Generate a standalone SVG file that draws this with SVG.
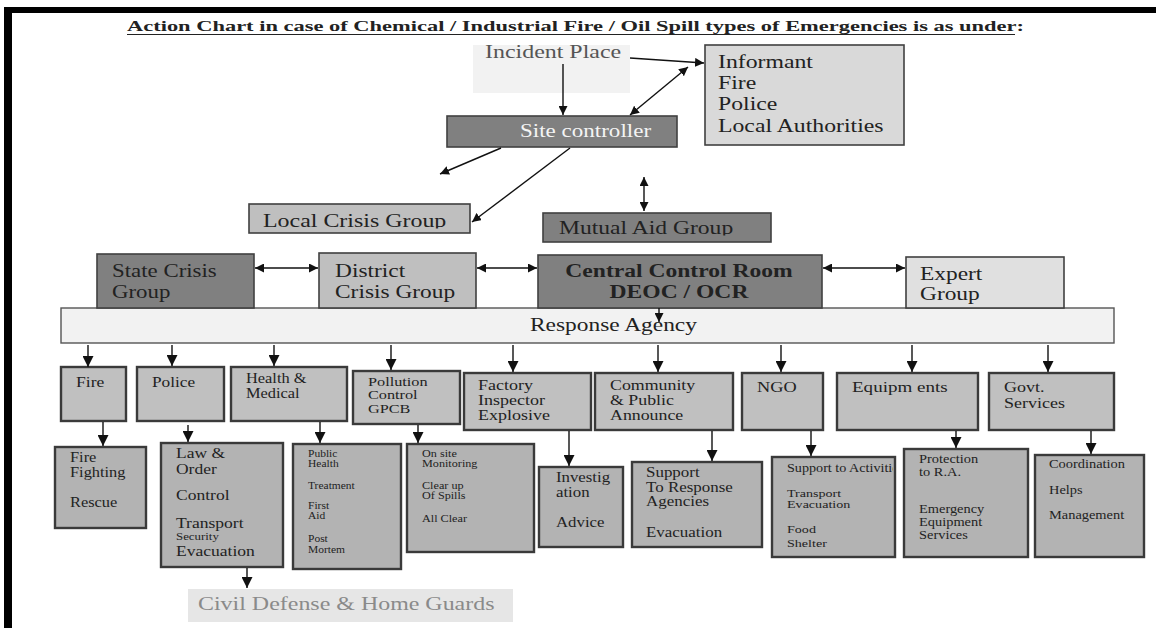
<svg xmlns="http://www.w3.org/2000/svg" width="1156" height="628" viewBox="0 0 1156 628">
<style>
.t{font-family:"Liberation Serif","Times New Roman",serif;fill:#222}
.b{font-weight:bold}
.f18{font-size:18px}.f15{font-size:15px}.f14{font-size:14px}.f13{font-size:13px}.f12{font-size:12px}.f11{font-size:11px}.f10{font-size:10px}
.bt{stroke:#404040;stroke-width:1.6}
.br{stroke:#3a3a3a;stroke-width:2.4}
.dk{fill:#808080}.md{fill:#bfbfbf}.lt{fill:#d9d9d9}.xl{fill:#f2f2f2}
.r1{fill:#c0c0c0}.r2{fill:#b3b3b3}
.c{stroke:#111;stroke-width:1.4;fill:none}
</style>
<defs>
<marker id="ah" viewBox="0 0 10 10" refX="10" refY="5" markerWidth="9" markerHeight="9" markerUnits="userSpaceOnUse" orient="auto-start-reverse"><path d="M0,0 L10,5 L0,10 z" fill="#111"/></marker>
<marker id="ahb" viewBox="0 0 10 10" refX="10" refY="5" markerWidth="11" markerHeight="11" markerUnits="userSpaceOnUse" orient="auto-start-reverse"><path d="M0,0 L10,5 L0,10 z" fill="#111"/></marker>
<clipPath id="clLcg"><rect x="249" y="204" width="221" height="24.5"/></clipPath>
<clipPath id="clMag"><rect x="543" y="213" width="228" height="22.5"/></clipPath>
<clipPath id="clSup"><rect x="772" y="457" width="121" height="100"/></clipPath>
</defs>
<rect width="1156" height="628" fill="#fff"/>
<g id="frame">
<rect x="4" y="7" width="8" height="621" fill="#000"/>
<rect x="4" y="7" width="1152" height="6" fill="#000"/>
</g>
<g id="title">
<text class="t b" x="127" y="31" font-size="15" textLength="897" lengthAdjust="spacingAndGlyphs">Action Chart in case of Chemical / Industrial Fire / Oil Spill types of Emergencies is as under:</text>
<line x1="127" y1="34.5" x2="1015" y2="34.5" stroke="#222" stroke-width="1.2"/>
</g>

<g id="incident-place">
<rect x="473" y="45" width="157" height="48" class="xl"/>
<g transform="translate(485 0) scale(1.33 1)"><text class="t f18" y="58" style="fill:#555">Incident Place</text></g>
</g>
<g id="informant">
<rect x="705" y="45" width="199" height="100" class="lt bt"/>
<g transform="translate(718 0) scale(1.32 1)">
<text class="t f18" y="68">Informant</text>
<text class="t f18" y="89">Fire</text>
<text class="t f18" y="110">Police</text>
<text class="t f18" y="132">Local Authorities</text>
</g>
</g>
<g id="site-controller">
<rect x="447" y="116" width="230" height="31" class="dk bt"/>
<g transform="translate(520 0) scale(1.28 1)"><text class="t f18" y="137" style="fill:#f4f4f4">Site controller</text></g>
</g>
<g id="local-crisis-group">
<rect x="249" y="204" width="221" height="29" class="md bt"/>
<g clip-path="url(#clLcg)"><g transform="translate(263 0) scale(1.33 1)"><text class="t f18" y="227">Local Crisis Group</text></g></g>
</g>
<g id="mutual-aid-group">
<rect x="543" y="213" width="228" height="29" class="dk bt"/>
<g clip-path="url(#clMag)"><g transform="translate(559 0) scale(1.31 1)"><text class="t f18" y="234">Mutual Aid Group</text></g></g>
</g>

<g id="response-agency">
<rect x="61" y="308" width="1053" height="35" class="xl" stroke="#555" stroke-width="1.4"/>
<g transform="translate(530 0) scale(1.3 1)"><text class="t f18" y="331">Response Agency</text></g>
</g>
<g id="state-crisis-group">
<rect x="97" y="254" width="157" height="54" class="dk bt"/>
<g transform="translate(112 0) scale(1.27 1)"><text class="t f18" y="277">State Crisis</text><text class="t f18" y="298">Group</text></g>
</g>
<g id="district-crisis-group">
<rect x="319" y="253" width="157" height="55" class="md bt"/>
<g transform="translate(335 0) scale(1.3 1)"><text class="t f18" y="277">District</text><text class="t f18" y="298">Crisis Group</text></g>
</g>
<g id="central-control-room">
<rect x="538" y="255" width="284" height="53" class="dk bt"/>
<g transform="translate(679 0) scale(1.31 1)"><text class="t f18 b" y="277" text-anchor="middle">Central Control Room</text><text class="t f18 b" y="298" text-anchor="middle">DEOC / OCR</text></g>
</g>
<g id="expert-group">
<rect x="906" y="257" width="158" height="51" class="bt" fill="#e0e0e0"/>
<g transform="translate(920 0) scale(1.3 1)"><text class="t f18" y="280">Expert</text><text class="t f18" y="300">Group</text></g>
</g>

<g id="fire">
<rect x="61" y="367" width="65" height="54" class="r1 br"/>
<g transform="translate(76 0) scale(1.17 1)"><text class="t f15" y="387">Fire</text></g>
</g>
<g id="police">
<rect x="137" y="367" width="87" height="54" class="r1 br"/>
<g transform="translate(152 0) scale(1.15 1)"><text class="t f15" y="387">Police</text></g>
</g>
<g id="health-medical">
<rect x="231" y="367" width="116" height="54" class="r1 br"/>
<g transform="translate(246 0) scale(1.17 1)"><text class="t f14" y="383">Health &amp;</text><text class="t f14" y="398">Medical</text></g>
</g>
<g id="pollution-control">
<rect x="353" y="371" width="107" height="53" class="r1 br"/>
<g transform="translate(368 0) scale(1.25 1)"><text class="t f13" y="386">Pollution</text><text class="t f13" y="399.5">Control</text><text class="t f13" y="413">GPCB</text></g>
</g>
<g id="factory-inspector">
<rect x="464" y="373" width="127" height="57" class="r1 br"/>
<g transform="translate(478 0) scale(1.2 1)"><text class="t f15" y="390">Factory</text><text class="t f15" y="405">Inspector</text><text class="t f15" y="420">Explosive</text></g>
</g>
<g id="community">
<rect x="595" y="373" width="138" height="57" class="r1 br"/>
<g transform="translate(610 0) scale(1.19 1)"><text class="t f15" y="390">Community</text><text class="t f15" y="405">&amp; Public</text><text class="t f15" y="420">Announce</text></g>
</g>
<g id="ngo">
<rect x="742" y="373" width="81" height="57" class="r1 br"/>
<g transform="translate(757 0) scale(1.22 1)"><text class="t f15" y="392">NGO</text></g>
</g>
<g id="equipments">
<rect x="837" y="373" width="141" height="57" class="r1 br"/>
<g transform="translate(852 0) scale(1.27 1)"><text class="t f15" y="392">Equipm ents</text></g>
</g>
<g id="govt-services">
<rect x="989" y="373" width="125" height="57" class="r1 br"/>
<g transform="translate(1004 0) scale(1.2 1)"><text class="t f15" y="392">Govt.</text><text class="t f15" y="408">Services</text></g>
</g>

<g id="fire-fighting">
<rect x="55" y="447" width="91" height="81" class="r2 br"/>
<g transform="translate(70 0) scale(1.17 1)"><text class="t f14" y="462">Fire</text><text class="t f14" y="477">Fighting</text><text class="t f14" y="507">Rescue</text></g>
</g>
<g id="law-order">
<rect x="161" y="443" width="122" height="124" class="r2 br"/>
<g transform="translate(176 0) scale(1.25 1)"><text class="t f14" y="458">Law &amp;</text><text class="t f14" y="474">Order</text></g>
<g transform="translate(176 0) scale(1.17 1)"><text class="t f15" y="500">Control</text><text class="t f15" y="528">Transport</text><text class="t f11" y="540">Security</text><text class="t f15" y="556">Evacuation</text></g>
</g>
<g id="public-health">
<rect x="293" y="444" width="108" height="125" class="r2 br"/>
<g transform="translate(308 0) scale(1.15 1)"><text class="t f10" y="457">Public</text><text class="t f10" y="467">Health</text><text class="t f10" y="489">Treatment</text><text class="t f10" y="509">First</text><text class="t f10" y="519">Aid</text><text class="t f10" y="542">Post</text><text class="t f10" y="553">Mortem</text></g>
</g>
<g id="onsite-monitoring">
<rect x="407" y="444" width="127" height="108" class="r2 br"/>
<g transform="translate(422 0) scale(1.16 1)"><text class="t" font-size="10.5" y="457">On site</text><text class="t" font-size="10.5" y="467">Monitoring</text><text class="t" font-size="10.5" y="489">Clear up</text><text class="t" font-size="10.5" y="499">Of Spills</text><text class="t" font-size="10.5" y="522">All Clear</text></g>
</g>
<g id="investigation">
<rect x="539" y="467" width="84" height="80" class="r2 br"/>
<g transform="translate(556 0) scale(1.12 1)"><text class="t f15" y="482">Investig</text><text class="t f15" y="497">ation</text><text class="t f15" y="527">Advice</text></g>
</g>
<g id="support-response">
<rect x="632" y="462" width="130" height="85" class="r2 br"/>
<g transform="translate(646 0) scale(1.13 1)"><text class="t f15" y="477">Support</text><text class="t f15" y="492">To Response</text><text class="t f15" y="506">Agencies</text><text class="t f15" y="537">Evacuation</text></g>
</g>
<g id="support-activities">
<rect x="772" y="457" width="123" height="100" class="r2 br"/>
<g clip-path="url(#clSup)"><g transform="translate(787 0) scale(1.18 1)"><text class="t f12" y="472">Support to Activities</text></g></g>
<g transform="translate(787 0) scale(1.28 1)"><text class="t f11" y="497">Transport</text><text class="t f11" y="508">Evacuation</text><text class="t f11" y="533">Food</text><text class="t f11" y="547">Shelter</text></g>
</g>
<g id="protection">
<rect x="904" y="449" width="124" height="108" class="r2 br"/>
<g transform="translate(919 0) scale(1.2 1)"><text class="t f12" y="463">Protection</text><text class="t f12" y="476">to R.A.</text><text class="t f12" y="513">Emergency</text><text class="t f12" y="526">Equipment</text><text class="t f12" y="539">Services</text></g>
</g>
<g id="coordination">
<rect x="1035" y="455" width="109" height="102" class="r2 br"/>
<g transform="translate(1049 0) scale(1.2 1)"><text class="t f12" y="468">Coordination</text><text class="t f12" y="494">Helps</text><text class="t f12" y="519">Management</text></g>
</g>
<g id="civil-defense">
<rect x="188" y="589" width="325" height="33" fill="#e6e6e6"/>
<g transform="translate(198 0) scale(1.26 1)"><text class="t" font-size="19" y="610" style="fill:#8a8a8a">Civil Defense &amp; Home Guards</text></g>
</g>

<g id="connectors" class="c">
<path d="M563,64 L563,115" marker-end="url(#ah)"/>
<path d="M630,58 L704,63" marker-end="url(#ah)"/>
<path d="M630,115 L688,67" marker-start="url(#ah)" marker-end="url(#ah)"/>
<path d="M501,148 L440,174" marker-end="url(#ah)"/>
<path d="M570,148 L472,222" marker-end="url(#ah)"/>
<path d="M644,177 L644,211" marker-start="url(#ah)" marker-end="url(#ah)"/>
<path d="M255,268 L318,268" marker-start="url(#ah)" marker-end="url(#ah)"/>
<path d="M477,268 L537,268" marker-start="url(#ah)" marker-end="url(#ah)"/>
<path d="M823,268 L905,268" marker-start="url(#ah)" marker-end="url(#ah)"/>
<path d="M659,308 L659,322" marker-end="url(#ah)"/>
<path d="M88,345 L88,367" marker-end="url(#ahb)"/>
<path d="M172,345 L172,366" marker-end="url(#ahb)"/>
<path d="M274,345 L274,366" marker-end="url(#ahb)"/>
<path d="M391,345 L391,370" marker-end="url(#ahb)"/>
<path d="M513,345 L513,372" marker-end="url(#ahb)"/>
<path d="M658,345 L658,372" marker-end="url(#ahb)"/>
<path d="M781,345 L781,372" marker-end="url(#ahb)"/>
<path d="M912,345 L912,372" marker-end="url(#ahb)"/>
<path d="M1048,345 L1048,372" marker-end="url(#ahb)"/>
<path d="M103,422 L103,446" marker-end="url(#ahb)"/>
<path d="M188,425 L188,442" marker-end="url(#ahb)"/>
<path d="M320,422 L320,443" marker-end="url(#ahb)"/>
<path d="M418,425 L418,443" marker-end="url(#ahb)"/>
<path d="M569,431 L569,466" marker-end="url(#ahb)"/>
<path d="M712,431 L712,461" marker-end="url(#ahb)"/>
<path d="M811,431 L811,456" marker-end="url(#ahb)"/>
<path d="M956,431 L956,448" marker-end="url(#ahb)"/>
<path d="M1091,431 L1091,454" marker-end="url(#ahb)"/>
<path d="M247,568 L247,588" marker-end="url(#ahb)"/>
</g>
</svg>
